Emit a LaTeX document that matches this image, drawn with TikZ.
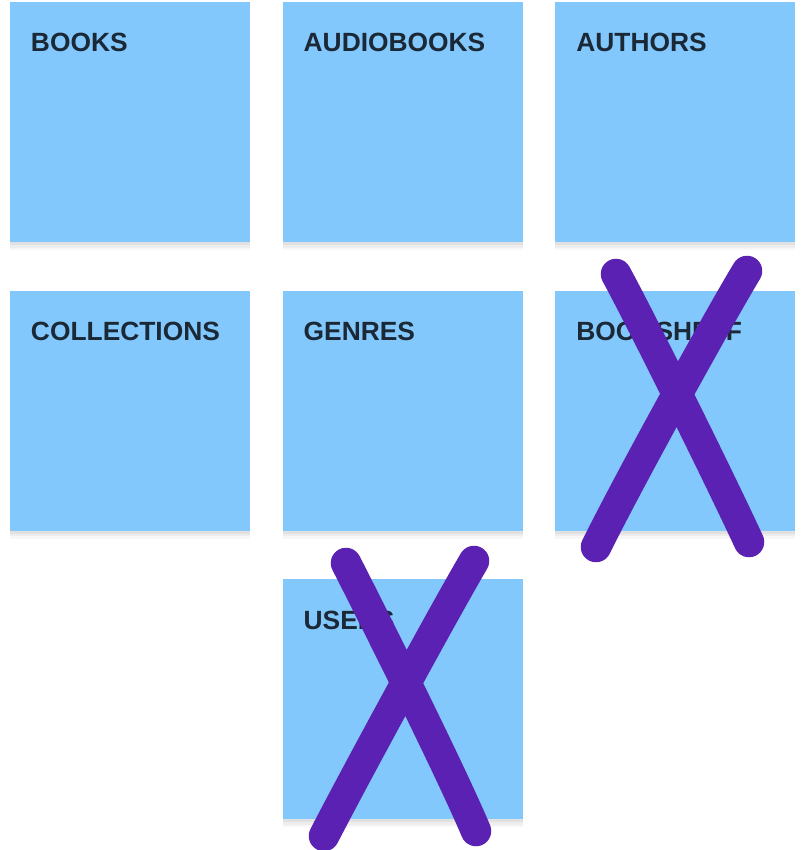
\documentclass[tikz,border=0pt]{standalone}
\usepackage{fontspec}
\setmainfont{Liberation Sans}
\usepackage{xcolor}
\usetikzlibrary{positioning,shadows}

\definecolor{noteblue}{RGB}{130,200,253}
\definecolor{notetext}{RGB}{27,40,54}
\definecolor{crosspurple}{RGB}{91,33,178}

\begin{document}
\begin{tikzpicture}[x=0.2mm,y=-0.2mm,
        note/.style={fill=noteblue, minimum width=48mm, minimum height=48mm, inner sep=0pt,
            general shadow={shadow xshift=0mm, shadow yshift=-1.6mm, opacity=0.03, fill=black},
            general shadow={shadow xshift=0mm, shadow yshift=-1.1mm, opacity=0.04, fill=black},
            general shadow={shadow xshift=0mm, shadow yshift=-0.6mm, opacity=0.05, fill=black}},
        title/.style={anchor=base west, font=\bfseries\fontsize{15}{18}\selectfont, text=notetext, inner sep=0pt},
        cross/.style={draw=crosspurple, line width=6.1mm, line cap=round}]
        \useasboundingbox (0,0) rectangle (804,850);

        % first row
        \node[note] (books) at (130,122) {};
        \node[note, right=6.4mm of books] (audiobooks) {};
        \node[note, right=6.4mm of audiobooks] (authors) {};
        % second row
        \node[note, below=9.6mm of books] (collections) {};
        \node[note, below=9.6mm of audiobooks] (genres) {};
        \node[note, below=9.6mm of authors] (bookshelf) {};
        % third row
        \node[note, below=9.6mm of genres] (users) {};

        \node[title] (t-books) at ([shift={(21,50)}]books.north west) {BOOKS};
        \node[title] (t-audiobooks) at ([shift={(21,50)}]audiobooks.north west) {AUDIOBOOKS};
        \node[title] (t-authors) at ([shift={(21,50)}]authors.north west) {AUTHORS};
        \node[title] (t-collections) at ([shift={(21,50)}]collections.north west) {COLLECTIONS};
        \node[title] (t-genres) at ([shift={(21,50)}]genres.north west) {GENRES};
        \node[title] (t-bookshelf) at ([shift={(21,50)}]bookshelf.north west) {BOOKSHELF};
        \node[title] (t-users) at ([shift={(21,50)}]users.north west) {USERS};

        % crossed out
        \draw[cross] (616,274) .. controls (640,318) and (718,475) .. (749,542);
        \draw[cross] (747,271) .. controls (722,312) and (630,478) .. (596,547);
        \draw[cross] (346,563) .. controls (370,610) and (448,765) .. (476,831);
        \draw[cross] (474,561) .. controls (448,605) and (358,770) .. (324,836);
    \end{tikzpicture}
\end{document}
